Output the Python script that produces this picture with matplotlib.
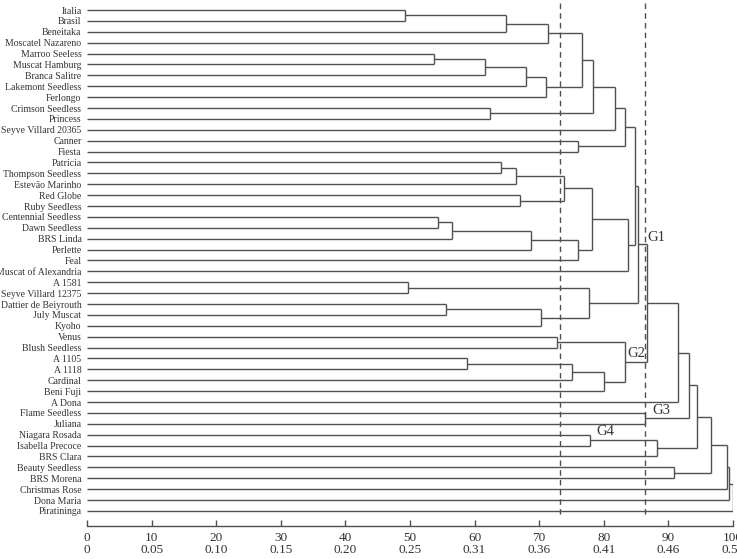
import matplotlib
matplotlib.use("Agg")
import matplotlib.pyplot as plt

plt.rcParams['font.family'] = ['Liberation Serif', 'DejaVu Serif']

labels = [
    "Italia", "Brasil", "Beneitaka", "Moscatel Nazareno", "Marroo Seeless",
    "Muscat Hamburg", "Branca Salitre", "Lakemont Seedless", "Ferlongo",
    "Crimson Seedless", "Princess", "Seyve Villard 20365", "Canner", "Fiesta",
    "Patrícia", "Thompson Seedless", "Estevão Marinho", "Red Globe",
    "Ruby Seedless", "Centennial Seedless", "Dawn Seedless", "BRS Linda",
    "Perlette", "Feal", "Muscat of Alexandria", "A 1581", "Seyve Villard 12375",
    "Dattier de Beiyrouth", "July Muscat", "Kyoho", "Venus", "Blush Seedless",
    "A 1105", "A 1118", "Cardinal", "Beni Fuji", "A Dona", "Flame Seedless",
    "Juliana", "Niagara Rosada", "Isabella Precoce", "BRS Clara",
    "Beauty Seedless", "BRS Morena", "Christmas Rose", "Dona Maria", "Piratininga",
]

# merges: node ids 0..46 are leaves, 47.. are merges in order
merge_left = [0, 47, 48, 4, 50, 51, 52, 49, 9, 54, 56, 12, 57,
              14, 60, 17, 61, 19, 64, 65, 66, 63, 68, 59,
              25, 27, 72, 71, 70, 30, 32, 77, 78, 76, 75, 81, 37, 82,
              39, 85, 84, 42, 87, 89, 90, 91]
merge_right = [1, 2, 3, 5, 6, 7, 8, 53, 10, 55, 11, 13, 58,
               15, 16, 18, 62, 20, 21, 22, 23, 67, 24, 69,
               26, 28, 29, 73, 74, 31, 33, 34, 35, 79, 80, 36, 38, 83,
               40, 41, 86, 43, 88, 44, 45, 46]
merge_height = [49.2, 64.9, 71.4, 53.7, 61.6, 68.0, 71.0, 76.6, 62.4, 78.3, 81.7, 76.0, 83.3,
                64.1, 66.4, 67.0, 73.8, 54.3, 56.5, 68.7, 76.0, 78.2, 83.8, 84.8,
                49.7, 55.6, 70.3, 77.7, 85.3, 72.8, 58.8, 75.1, 80.0, 83.3, 86.7, 91.5, 86.4, 93.2,
                77.9, 88.2, 94.4, 90.9, 96.6, 99.1, 99.4, 100.0]

cut_lines = [73.2, 86.4]
group_names = ["G1", "G2", "G3", "G4"]
group_x = [86.8, 83.6, 87.5, 78.8]
group_y = [20.85, 31.5, 36.8, 38.75]

x_ticks = [0, 10, 20, 30, 40, 50, 60, 70, 80, 90, 100]
x_ticks2 = ["0", "0.05", "0.10", "0.15", "0.20", "0.25", "0.31", "0.36", "0.41", "0.46", "0.51"]

W, H = 737, 559
fig = plt.figure(figsize=(W / 100, H / 100), dpi=100)
px_top, px_bot = 3, 526
px_left, px_right = 87, 733
ax = fig.add_axes([px_left / W, 1 - px_bot / H, (px_right - px_left) / W, (px_bot - px_top) / H])

step = 10.89
ax.set_xlim(0, 100)
ax.set_ylim((px_bot - 10) / step, -(10 - px_top) / step)

lc = '#505050'
lw = 1.0
n = len(labels)
ypos = {i: float(i) for i in range(n)}
hpos = {i: 0.0 for i in range(n)}
for k, (a, b, h) in enumerate(zip(merge_left, merge_right, merge_height)):
    node = n + k
    for c in (a, b):
        ax.plot([hpos[c], h], [ypos[c], ypos[c]], color=lc, lw=lw, solid_capstyle='butt')
    ax.plot([h, h], [ypos[a], ypos[b]], color=lc, lw=lw, solid_capstyle='butt')
    ypos[node] = (ypos[a] + ypos[b]) / 2
    hpos[node] = h

for xc in cut_lines:
    ax.plot([xc, xc], [-(10 - px_top) / step, (515 - 10) / step], color='#505050',
            lw=1.0, ls=(0, (4, 3)))

for name, gx, gy in zip(group_names, group_x, group_y):
    ax.text(gx, gy, name, fontsize=10.5, color='#333333', va='center', ha='left')

ax.set_yticks(range(n))
ax.set_yticklabels(labels, fontsize=7, color='#333333')
ax.tick_params(axis='y', length=0, pad=4)

ax.set_xticks(x_ticks)
ax.set_xticklabels([f"{a}\n{b}" for a, b in zip(x_ticks, x_ticks2)], fontsize=9.5,
                   color='#333333', linespacing=1.0)
ax.tick_params(axis='x', direction='in', length=4, width=1, color=lc, pad=4)

for s in ['top', 'right', 'left']:
    ax.spines[s].set_visible(False)
ax.spines['bottom'].set_color(lc)
ax.spines['bottom'].set_linewidth(1.0)

fig.savefig('out.png', dpi=100)
